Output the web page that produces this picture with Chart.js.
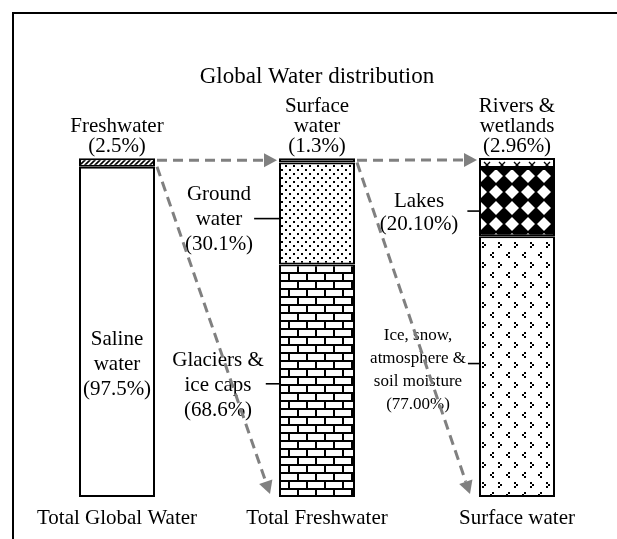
<!DOCTYPE html>
<html><head><meta charset="utf-8">
<style>html,body{margin:0;padding:0;background:#fff;overflow:hidden}#wrap{position:relative;width:617px;height:539px}</style>
<script src="https://cdn.jsdelivr.net/npm/chart.js@4.4.1/dist/chart.umd.min.js"></script>
</head><body><div id="wrap"><canvas id="c" width="617" height="539"></canvas></div>
<script>
const categories = ['Total Global Water', 'Total Freshwater', 'Surface water'];
const bottomValues = [97.5, 68.6, 77.00];
const middleValues = [null, 30.1, 20.10];
const topValues = [2.5, 1.3, 2.96];
const bottomLabels = [['Saline', 'water', '(97.5%)'], ['Glaciers &', 'ice caps', '(68.6%)'], ['Ice, snow,', 'atmosphere &', 'soil moisture', '(77.00%)']];
const middleLabels = [null, ['Ground', 'water', '(30.1%)'], ['Lakes', '(20.10%)']];
const topLabels = [['Freshwater', '(2.5%)'], ['Surface', 'water', '(1.3%)'], ['Rivers &', 'wetlands', '(2.96%)']];
const titleText = 'Global Water distribution';

const SERIF = '"Liberation Serif", "Times New Roman", serif';
const canvas = document.getElementById('c');
const ctx = canvas.getContext('2d');

function makePattern(w, h, draw) {
  const c = document.createElement('canvas');
  c.width = w; c.height = h;
  const g = c.getContext('2d');
  g.fillStyle = '#fff'; g.fillRect(0, 0, w, h);
  g.fillStyle = '#000'; g.strokeStyle = '#000';
  draw(g, w, h);
  return ctx.createPattern(c, 'repeat');
}
const hatch = makePattern(5, 5, (g) => {
  g.lineWidth = 1.6;
  for (let k = -1; k <= 1; k++) { g.beginPath(); g.moveTo(k * 5 - 1, 6); g.lineTo(k * 5 + 6, -1); g.stroke(); }
});
const dots = makePattern(8, 8, (g) => { g.fillRect(1, 1, 2, 2); g.fillRect(5, 5, 2, 2); });
const brick = makePattern(18, 16, (g) => {
  g.fillRect(0, 0, 18, 2); g.fillRect(0, 8, 18, 2);
  g.fillRect(0, 2, 2, 6); g.fillRect(9, 10, 2, 6);
});
const crosses = makePattern(15, 10, (g) => {
  g.lineWidth = 1.4;
  g.beginPath(); g.moveTo(4, 2); g.lineTo(10, 8); g.moveTo(10, 2); g.lineTo(4, 8); g.stroke();
});
const diamonds = makePattern(16, 16, (g) => {
  const r = 9;
  for (const [ox, oy] of [[8, 8], [-8, -8], [24, -8], [-8, 24], [24, 24]]) {
    g.beginPath(); g.moveTo(ox, oy - r); g.lineTo(ox + r, oy); g.lineTo(ox, oy + r); g.lineTo(ox - r, oy); g.closePath(); g.fill();
  }
});
const confetti = makePattern(16, 20, (g) => {
  g.fillRect(2, 2, 2, 2); g.fillRect(4, 4, 2, 2); g.fillRect(2, 6, 2, 2);
  g.fillRect(12, 12, 2, 2); g.fillRect(10, 14, 2, 2); g.fillRect(12, 16, 2, 2);
});

const bottomFills = ['#ffffff', brick, confetti];
const middleFills = ['#ffffff', dots, diamonds];
const topFills = [hatch, '#ffffff', crosses];

const sums = categories.map((_, i) => (bottomValues[i] || 0) + (middleValues[i] || 0) + (topValues[i] || 0));
const yMax = Math.max(...sums);

function drawLines(c, lines, cx, cy, step) {
  const n = lines.length;
  lines.forEach((t, k) => c.fillText(t, cx, cy + (k - (n - 1) / 2) * step));
}
function maxW(c, lines) { return Math.max(...lines.map(t => c.measureText(t).width)); }

function arrow(c, x1, y1, x2, y2) {
  const ang = Math.atan2(y2 - y1, x2 - x1);
  const L = 13, W = 7;
  const bx = x2 - L * Math.cos(ang), by = y2 - L * Math.sin(ang);
  c.save();
  c.strokeStyle = '#808080'; c.fillStyle = '#808080'; c.lineWidth = 3;
  c.setLineDash([10, 6]);
  c.beginPath(); c.moveTo(x1, y1); c.lineTo(bx, by); c.stroke();
  c.setLineDash([]);
  c.beginPath(); c.moveTo(x2, y2);
  c.lineTo(bx + W * Math.sin(ang), by - W * Math.cos(ang));
  c.lineTo(bx - W * Math.sin(ang), by + W * Math.cos(ang));
  c.closePath(); c.fill();
  c.restore();
}

const annotate = {
  id: 'annotate',
  beforeDraw(chart) {
    const c = chart.ctx;
    c.save();
    c.fillStyle = '#fff'; c.fillRect(0, 0, chart.width, chart.height);
    c.strokeStyle = '#000'; c.lineWidth = 2;
    c.strokeRect(13, 13, 800, 800);
    c.restore();
  },
  afterDatasetsDraw(chart) {
    const c = chart.ctx;
    const mb = chart.getDatasetMeta(0), mm = chart.getDatasetMeta(1), mt = chart.getDatasetMeta(2);
    c.save();
    c.fillStyle = '#000'; c.strokeStyle = '#000';
    c.textAlign = 'center'; c.textBaseline = 'middle';
    c.font = '21px ' + SERIF;
    categories.forEach((_, j) => {
      const t = mt.data[j], b = mb.data[j], m = mm.data[j];
      const left = t.x - t.width / 2;
      const tl = topLabels[j];
      tl.forEach((s, k) => c.fillText(s, t.x, t.y - 12 - (tl.length - 1 - k) * 20));
      const bl = bottomLabels[j];
      const bc = (b.y + b.base) / 2;
      if (j === 0) {
        drawLines(c, bl, b.x, bc + 33, 25);
      } else {
        const small = j === 2;
        c.font = (small ? '17px ' : '21px ') + SERIF;
        const step = small ? 23 : 25;
        const cx = left - 61, cy = bc + (small ? 3 : 5);
        drawLines(c, bl, cx, cy, step);
        const ly = small ? cy - 6 : cy - 2;
        const sx = cx + maxW(c, bl) / 2 + 2;
        c.lineWidth = 1.6;
        c.beginPath(); c.moveTo(sx, ly); c.lineTo(left, ly); c.stroke();
        c.font = '21px ' + SERIF;
      }
      const ml = middleLabels[j];
      if (ml && m) {
        const mc = (m.y + m.base) / 2;
        const cx = left - 60;
        const cy = j === 1 ? mc + 6 : mc + 11;
        const step = j === 1 ? 25 : 23;
        drawLines(c, ml, cx, cy, step);
        const ly = j === 1 ? cy - 1 : cy - 2;
        const sx = cx + maxW(c, ml) / 2 + (j === 1 ? 1 : 9);
        c.lineWidth = 1.6;
        c.beginPath(); c.moveTo(sx, ly); c.lineTo(left, ly); c.stroke();
      }
    });
    for (let j = 0; j < categories.length - 1; j++) {
      const a = mt.data[j], n = mt.data[j + 1], nb = mb.data[j + 1];
      const ra = a.x + a.width / 2, ln = n.x - n.width / 2;
      arrow(c, ra + 2, a.y + 2, ln - 2, n.y + 2);
      arrow(c, ra + 2, a.base, ln - 9, nb.base - 3);
    }
    c.restore();
  }
};

new Chart(ctx, {
  type: 'bar',
  data: {
    labels: categories,
    datasets: [
      { label: 'bottom', data: bottomValues, backgroundColor: bottomFills, borderColor: '#000', borderWidth: 2, borderSkipped: false, stack: 's' },
      { label: 'middle', data: middleValues, backgroundColor: middleFills, borderColor: '#000', borderWidth: 2, borderSkipped: false, stack: 's' },
      { label: 'top', data: topValues, backgroundColor: topFills, borderColor: '#000', borderWidth: 2, borderSkipped: false, stack: 's' }
    ]
  },
  options: {
    responsive: false, animation: false, devicePixelRatio: 1,
    layout: { padding: { left: 17, right: 0, top: 0, bottom: 8 } },
    datasets: { bar: { categoryPercentage: 1, barPercentage: 0.38 } },
    scales: {
      x: { stacked: true, grid: { display: false, drawTicks: false }, border: { display: false },
           afterFit: (s) => { s.height = 34; },
           ticks: { font: { family: SERIF, size: 21 }, color: '#000', padding: 9, maxRotation: 0, autoSkip: false } },
      y: { stacked: true, display: false, min: 0, max: yMax }
    },
    plugins: {
      legend: { display: false }, tooltip: { enabled: false },
      title: { display: true, text: titleText, color: '#000', font: { family: SERIF, size: 23, weight: 'normal' }, padding: { top: 63, bottom: 67.4 } }
    }
  },
  plugins: [annotate]
});
</script></body></html>
